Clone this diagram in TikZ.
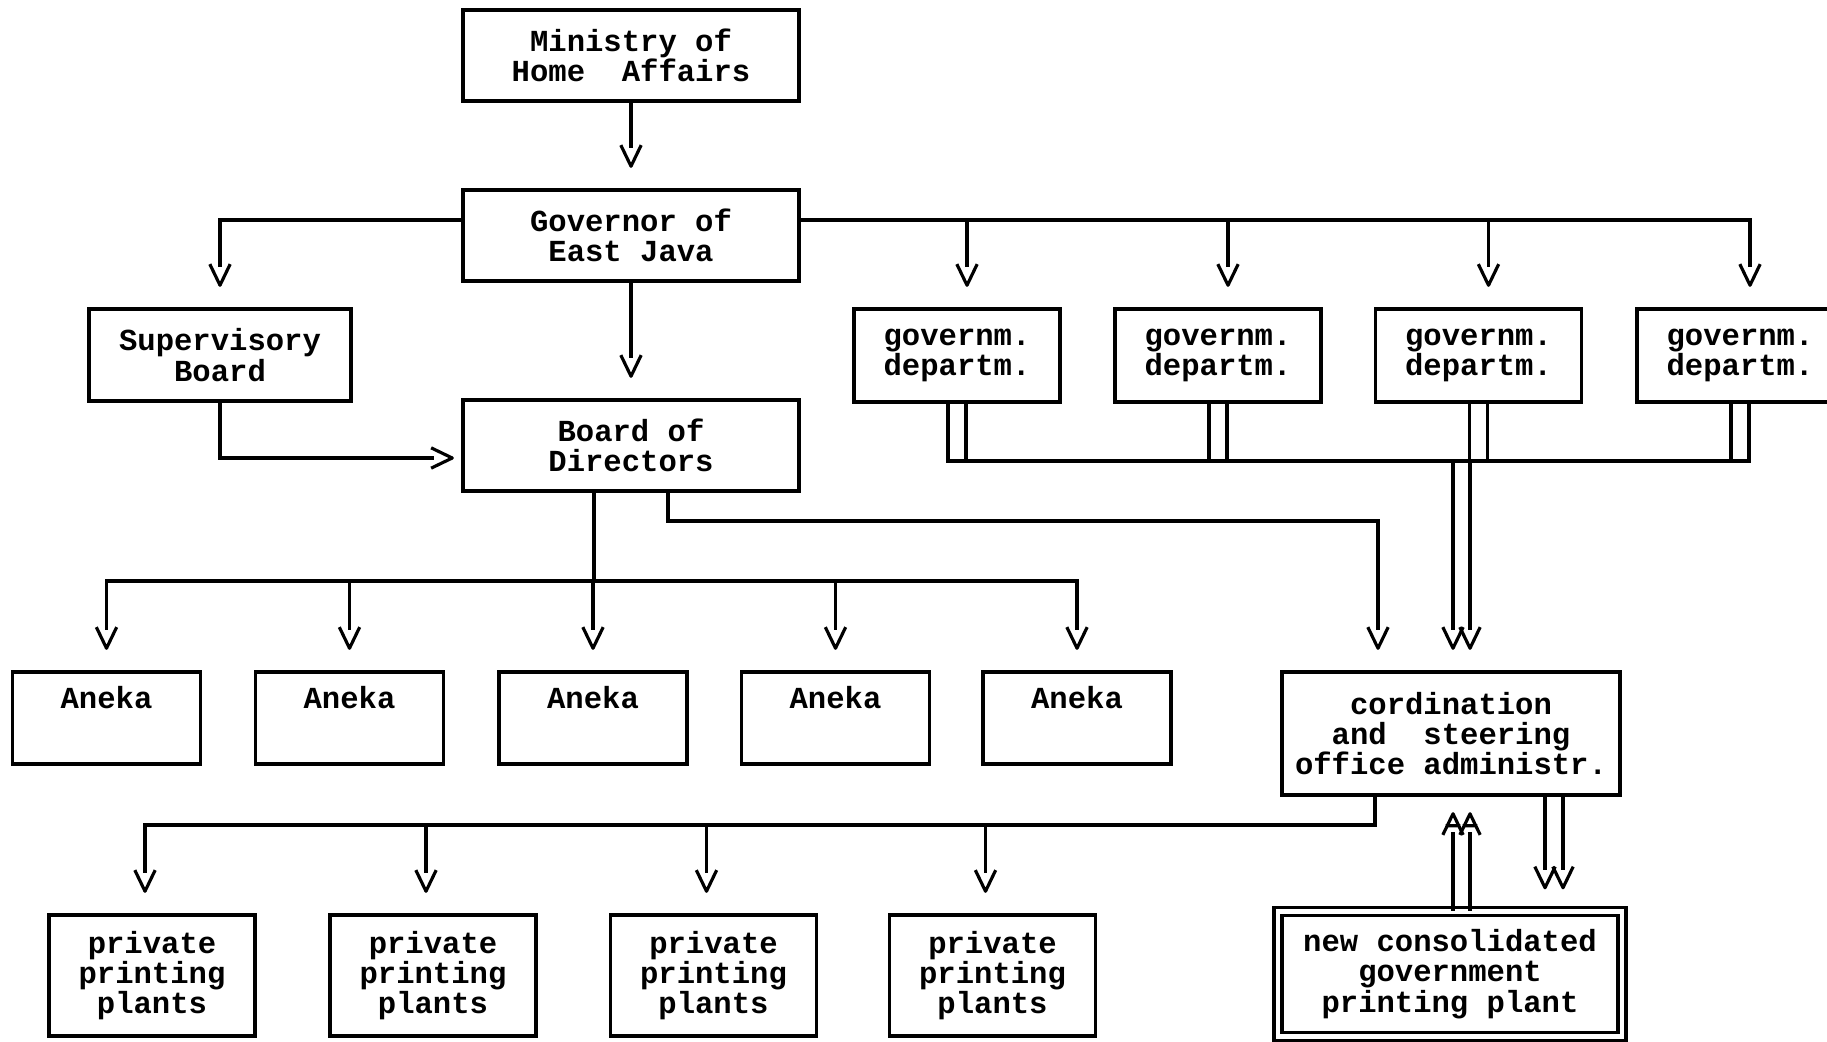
\documentclass[tikz,border=0pt]{standalone}
\usepackage{fontspec}
\setmainfont{Liberation Mono}
\usetikzlibrary{arrows.meta,calc}

% typewriter style arrow heads (a letter V, and an A for upward lines)
\pgfdeclarearrow{
  name = TypeV,
  setup code = {
    \pgfarrowssettipend{0pt}
    \pgfarrowssetlineend{-5.6pt}
    \pgfarrowssetbackend{-5.6pt}
    \pgfarrowshullpoint{0pt}{0pt}
    \pgfarrowshullpoint{-5.6pt}{2.7pt}
    \pgfarrowshullpoint{-5.6pt}{-2.7pt}
  },
  drawing code = {
    \pgfsetroundjoin
    \pgfpathmoveto{\pgfqpoint{-5.6pt}{2.7pt}}
    \pgfpathlineto{\pgfqpoint{0pt}{0pt}}
    \pgfpathlineto{\pgfqpoint{-5.6pt}{-2.7pt}}
    \pgfusepathqstroke
  }
}
\pgfdeclarearrow{
  name = TypeA,
  setup code = {
    \pgfarrowssettipend{0pt}
    \pgfarrowssetlineend{-5.6pt}
    \pgfarrowssetbackend{-5.6pt}
    \pgfarrowshullpoint{0pt}{0pt}
    \pgfarrowshullpoint{-5.6pt}{2.7pt}
    \pgfarrowshullpoint{-5.6pt}{-2.7pt}
  },
  drawing code = {
    \pgfsetroundjoin
    \pgfpathmoveto{\pgfqpoint{-5.6pt}{2.7pt}}
    \pgfpathlineto{\pgfqpoint{0pt}{0pt}}
    \pgfpathlineto{\pgfqpoint{-5.6pt}{-2.7pt}}
    \pgfpathmoveto{\pgfqpoint{-3.4pt}{1.65pt}}
    \pgfpathlineto{\pgfqpoint{-3.4pt}{-1.65pt}}
    \pgfusepathqstroke
  }
}

\tikzset{
  unit/.style={draw, line width=1pt, inner sep=0pt, align=center,
    font=\bfseries\fontsize{8.7pt}{8.6pt}\selectfont},
  head/.style={unit, minimum width=3.36cm, minimum height=0.91cm},
  dept/.style={unit, minimum width=2.06cm, minimum height=0.93cm},
  firm/.style={unit, minimum width=1.88cm, text height=0.36cm, text depth=0.56cm},
  plant/.style={unit, minimum width=2.06cm, minimum height=1.21cm},
  wire/.style={line width=0.9pt, line cap=rect},
  feed/.style={wire, -TypeV, shorten >=0.22cm},
  upfeed/.style={wire, -TypeA, shorten >=0.17cm},
}

\begin{document}
\begin{tikzpicture}
  \useasboundingbox (0,0) rectangle (18.27,10.41);
  \clip (0,0) rectangle (18.27,10.41);

  % Boxes
  \node[head] (min) at (6.31,9.855) {Ministry of\\Home\ \ Affairs};
  \node[head] (gov) at (6.31,8.055) {Governor of\\East Java};
  \node[head] (brd) at (6.31,5.955) {Board of\\Directors};
  \node[unit, minimum width=2.62cm, minimum height=0.92cm] (sup) at (2.20,6.86) {Supervisory\\Board};
  \foreach \x [count=\i] in {9.57,12.18,14.785,17.40}
    \node[dept] (dep\i) at (\x,6.855) {governm.\\departm.};
  \foreach \x [count=\i] in {1.065,3.495,5.93,8.355,10.77}
    \node[firm] (an\i) at (\x,3.23) {Aneka};
  \node[unit, minimum width=3.38cm, minimum height=1.23cm] (crd) at (14.51,3.075)
    {cordination\\and\ \ steering\\office administr.};
  \foreach \x [count=\i] in {1.52,4.33,7.135,9.925}
    \node[plant] (pp\i) at (\x,0.655) {private\\printing\\plants};
  \node[unit, double, double distance=1.2pt, minimum width=3.44cm, minimum height=1.25cm]
    (np) at (14.50,0.67) {new consolidated\\government\\printing plant};

  % Ministry and governor
  \draw[feed] (min) -- (gov);
  \draw[feed] ($(gov.west)+(0,0.155)$) -| (sup.north);
  \coordinate (gbus) at ($(gov.east)+(0,0.155)$);
  \draw[feed] (gbus) -| ($(dep4.north)+(0.1,0)$);
  \foreach \i in {1,2,3}
    \draw[feed] ($(dep\i.north |- gbus)+(0.1,0)$) -- ($(dep\i.north)+(0.1,0)$);
  \draw[feed] (gov) -- (brd);
  \draw[feed, shorten >=0.09cm] (sup.south) |- ($(brd.west)+(0,-0.125)$);

  % Board of directors
  \coordinate (abus) at (0,4.60);
  \coordinate (cbus) at (0,5.20);
  \draw[wire] ($(brd.south)+(-0.37,0)$) -- ($(brd.south |- abus)+(-0.37,0)$);
  \draw[wire] (an1 |- abus) -- (an5 |- abus);
  \foreach \i in {1,...,5}
    \draw[feed] (an\i |- abus) -- (an\i.north);
  \draw[feed] ($(brd.south)+(0.37,0)$) |- ($(crd.north |- cbus)+(-0.73,0)$)
    -- ($(crd.north)+(-0.73,0)$);

  % Departments to coordination office
  \coordinate (dbus) at (0,5.80);
  \foreach \i in {1,...,4} {
    \draw[wire] ($(dep\i.south)+(-0.09,0)$) -- ($(dep\i.south |- dbus)+(-0.09,0)$);
    \draw[wire] ($(dep\i.south)+(0.09,0)$) -- ($(dep\i.south |- dbus)+(0.09,0)$);
  }
  \draw[wire] ($(dep1.south |- dbus)+(-0.09,0)$) -- ($(dep4.south |- dbus)+(0.09,0)$);
  \foreach \dx in {0.02,0.19}
    \draw[feed] ($(crd.north |- dbus)+(\dx,0)$) -- ($(crd.north)+(\dx,0)$);

  % Coordination office to printing plants
  \coordinate (pbus) at (0,2.16);
  \draw[wire] ($(crd.south)+(-0.76,0)$) |- ($(pp1.north |- pbus)+(-0.07,0)$);
  \foreach \i in {1,...,4}
    \draw[feed] ($(pp\i.north |- pbus)+(-0.07,0)$) -- ($(pp\i.north)+(-0.07,0)$);
  \foreach \dx in {0.94,1.12}
    \draw[feed] ($(crd.south)+(\dx,0)$) -- ($(crd.south |- np.north)+(\dx,0)$);
  \foreach \dx in {0.03,0.20}
    \draw[upfeed] ($(np.north)+(\dx,0)$) -- ($(np.north |- crd.south)+(\dx,0)$);
\end{tikzpicture}
\end{document}
